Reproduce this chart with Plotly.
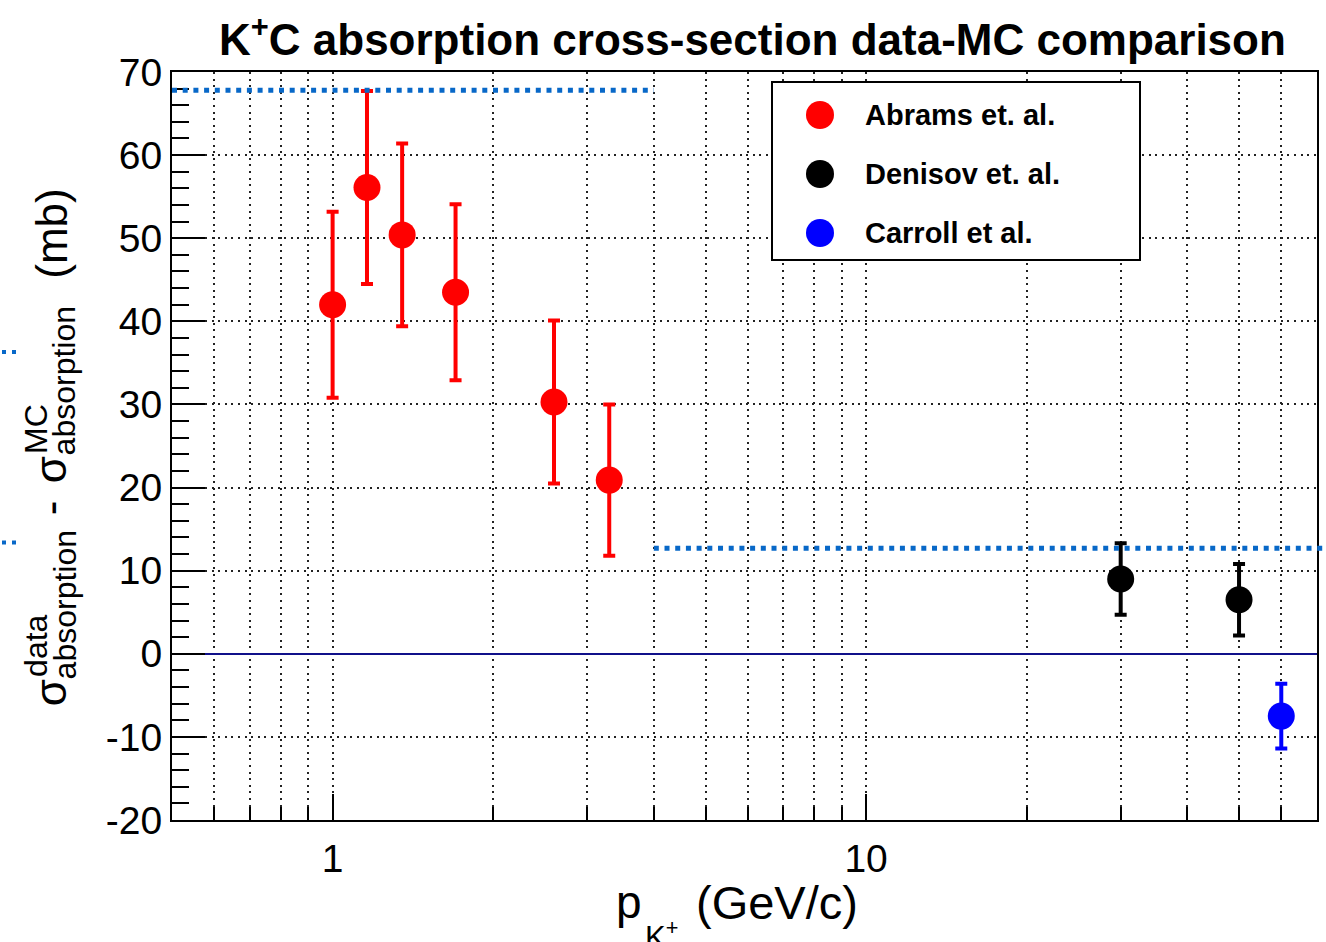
import math
import plotly.graph_objects as go

# --- data -------------------------------------------------------------
abrams_p = [1.0, 1.16, 1.35, 1.7, 2.6, 3.3]
abrams_dsigma = [42.0, 56.1, 50.4, 43.5, 30.3, 20.9]
abrams_err = [11.2, 11.6, 11.0, 10.6, 9.8, 9.1]

denisov_p = [30.0, 50.0]
denisov_dsigma = [9.0, 6.5]
denisov_err = [4.3, 4.3]

carroll_p = [60.0]
carroll_dsigma = [-7.5]
carroll_err = [3.9]

# reference levels (dotted blue) : low-p band and high-p band
band_low_p = [0.5, 4.0]
band_low_level = 67.8
band_high_p = [4.0, 100.0]
band_high_level = 12.7
edge_marks = [36.3, 13.4]

x_range = [0.5, 70.0]
y_range = [-20, 70]
x_major = [1, 10]
x_major_text = ["1", "10"]
x_minor = [0.6, 0.7, 0.8, 0.9, 2, 3, 4, 5, 6, 7, 8, 9, 20, 30, 40, 50, 60]
y_major = [-20, -10, 0, 10, 20, 30, 40, 50, 60, 70]
y_major_text = ["-20", "-10", "0", "10", "20", "30", "40", "50", "60", "70"]

legend_names = ["Abrams et. al.", "Denisov et. al.", "Carroll et al."]
legend_colors = ["#ff0000", "#000000", "#0000ff"]

# --- page geometry ----------------------------------------------------
W, H = 1326, 942
L, R, T, B = 172, 9, 72, 122
PW, PH = W - L - R, H - T - B
FONT = "Liberation Sans, Arial, Helvetica, sans-serif"


def px(xp):
    return (xp - L) / PW


def py(yp):
    return (H - B - yp) / PH


def xdata_to_paper(v):
    lo, hi = math.log10(x_range[0]), math.log10(x_range[1])
    return (math.log10(v) - lo) / (hi - lo)


fig = go.Figure()

for xs, ys, es, col in [
    (abrams_p, abrams_dsigma, abrams_err, legend_colors[0]),
    (denisov_p, denisov_dsigma, denisov_err, legend_colors[1]),
    (carroll_p, carroll_dsigma, carroll_err, legend_colors[2]),
]:
    fig.add_trace(go.Scatter(
        x=xs, y=ys, mode="markers", showlegend=False,
        marker=dict(size=27, color=col),
        error_y=dict(type="data", array=es, visible=True, color=col,
                     thickness=4, width=6),
        cliponaxis=False,
    ))

grid = dict(showgrid=True, gridcolor="#222222", gridwidth=1.6, griddash="2px,4.6px")

fig.update_xaxes(
    type="log", range=[math.log10(x_range[0]), math.log10(x_range[1])],
    tickmode="array", tickvals=x_major, ticktext=x_major_text,
    ticks="inside", ticklen=26, tickwidth=2, tickcolor="black",
    minor=dict(tickmode="array", tickvals=x_minor, ticks="inside", ticklen=13,
               tickwidth=2, tickcolor="black", **grid),
    showline=True, mirror=True, linecolor="black", linewidth=2,
    zeroline=False, tickfont=dict(family=FONT, size=39, color="black"),
    ticklabelstandoff=3,
    **grid,
)
fig.update_yaxes(
    range=y_range, tickmode="array", tickvals=y_major, ticktext=y_major_text,
    ticks="inside", ticklen=33, tickwidth=2, tickcolor="black",
    minor=dict(dtick=2, tick0=0, ticks="inside", ticklen=17, tickwidth=2,
               tickcolor="black", showgrid=False),
    showline=True, mirror=True, linecolor="black", linewidth=2,
    zeroline=True, zerolinecolor="#10108a", zerolinewidth=2,
    tickfont=dict(family=FONT, size=39, color="black"),
    ticklabelstandoff=0,
    **grid,
)

shapes = []
blue_dots = dict(color="#0868c8", width=5, dash="5px,5.7px")
shapes.append(dict(type="line", xref="x", yref="y",
                   x0=band_low_p[0], x1=band_low_p[1],
                   y0=band_low_level, y1=band_low_level, line=blue_dots))
shapes.append(dict(type="line", xref="paper", yref="y",
                   x0=xdata_to_paper(band_high_p[0]), x1=px(W),
                   y0=band_high_level, y1=band_high_level, line=blue_dots))
for lvl in edge_marks:
    shapes.append(dict(type="line", xref="paper", yref="y",
                       x0=px(2), x1=px(17), y0=lvl, y1=lvl,
                       line=dict(color="#0868c8", width=4, dash="4px,6px")))

# legend box
shapes.append(dict(type="rect", xref="paper", yref="paper",
                   x0=px(772), x1=px(1140), y0=py(260), y1=py(82),
                   line=dict(color="black", width=2), fillcolor="white",
                   layer="above"))

annotations = []
for i, (name, col) in enumerate(zip(legend_names, legend_colors)):
    yc = 115 + 59 * i
    shapes.append(dict(type="circle", xref="paper", yref="paper",
                       xsizemode="pixel", ysizemode="pixel",
                       xanchor=px(820), yanchor=py(yc),
                       x0=-14, x1=14, y0=-14, y1=14,
                       fillcolor=col, line=dict(width=0), layer="above"))
    annotations.append(dict(text="<b>%s</b>" % name, xref="paper", yref="paper",
                            x=px(863), y=py(yc), xanchor="left", yanchor="middle",
                            showarrow=False,
                            font=dict(family=FONT, size=29, color="black")))

# title
annotations.append(dict(
    text="<b>K<sup>+</sup>C absorption cross-section data-MC comparison</b>",
    xref="paper", yref="paper", x=px(752), y=py(37),
    xanchor="center", yanchor="middle", showarrow=False,
    font=dict(family=FONT, size=44, color="black")))

# x-axis title pieces
annotations.append(dict(text="p", xref="paper", yref="paper", x=px(614), y=py(874),
                        xanchor="left", yanchor="top", showarrow=False,
                        font=dict(family=FONT, size=46, color="black")))
annotations.append(dict(text="K<sup>+</sup>", xref="paper", yref="paper",
                        x=px(643), y=py(913), xanchor="left", yanchor="top",
                        showarrow=False, font=dict(family=FONT, size=31, color="black")))
annotations.append(dict(text="(GeV/c)", xref="paper", yref="paper", x=px(694), y=py(874),
                        xanchor="left", yanchor="top", showarrow=False,
                        font=dict(family=FONT, size=47, color="black")))

# y-axis title pieces: (text, font size, baseline x, start y)
ytitle = [
    ("σ", 44, 66, 708),
    ("data", 32, 47, 679),
    ("absorption", 32, 76, 681),
    ("-", 44, 66, 517),
    ("σ", 44, 66, 485),
    ("MC", 32, 47, 456),
    ("absorption", 32, 76, 457),
    ("(mb)", 44, 66, 281),
]
for txt, size, base, start in ytitle:
    annotations.append(dict(text=txt, xref="paper", yref="paper",
                            x=px(base - 0.3465 * size), y=py(start),
                            xanchor="center", yanchor="bottom", textangle=-90,
                            showarrow=False,
                            font=dict(family=FONT, size=size, color="black")))

fig.update_layout(
    width=W, height=H, margin=dict(l=L, r=R, t=T, b=B, autoexpand=False),
    paper_bgcolor="white", plot_bgcolor="white",
    shapes=shapes, annotations=annotations, showlegend=False,
)

fig.write_html("out.html")
